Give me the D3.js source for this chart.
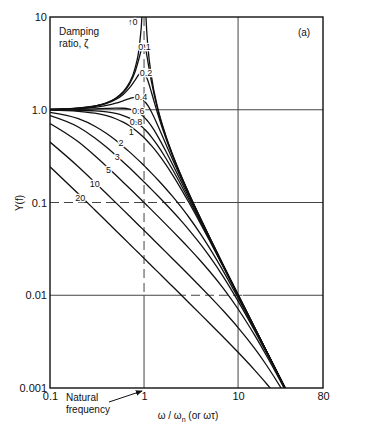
<!DOCTYPE html>
<html>
<head>
<meta charset="utf-8">
<script src="https://cdn.jsdelivr.net/npm/d3@7"></script>
<style>
  body { margin: 0; background: #fff; }
  svg { font-family: 'Liberation Sans', Arial, sans-serif; }
  .tick text { font-size: 11px; fill: #111; }
</style>
</head>
<body>
<div id="chart"></div>
<script>
// frequency ratio w/wn at which each curve was read
var freq = [0.1, 0.2, 0.3, 0.4, 0.5, 0.6, 0.7, 0.8, 0.9, 0.95, 0.98, 1.0, 1.02, 1.05, 1.1, 1.2, 1.4, 1.7, 2, 2.5, 3, 4, 5, 7, 10, 15, 20, 30, 40];

var z0 = [1.010, 1.042, 1.099, 1.190, 1.333, 1.563, 1.961, 2.778, 5.263, 10.26, 25.25, null, 24.75, 9.756, 4.762, 2.273, 1.042, 0.5291, 0.3333, 0.1905, 0.125, 0.0667, 0.04167, 0.02083, 0.0101, 0.004464, 0.002506, 0.001112, 0.000625];
var z01 = [1.010, 1.041, 1.097, 1.185, 1.322, 1.536, 1.891, 2.538, 3.821, 4.683, 5.001, 5.0, 4.809, 4.279, 3.288, 1.995, 1.0, 0.5207, 0.3304, 0.1896, 0.1247, 0.06657, 0.04163, 0.02083, 0.0101, 0.004464, 0.002506, 0.001112, 0.000625];
var z02 = [1.009, 1.038, 1.090, 1.170, 1.288, 1.463, 1.719, 2.076, 2.457, 2.549, 2.538, 2.5, 2.439, 2.313, 2.051, 1.536, 0.8998, 0.4979, 0.3221, 0.1871, 0.1236, 0.06629, 0.04152, 0.0208, 0.01009, 0.004463, 0.002506, 0.001112, 0.000625];
var z04 = [1.007, 1.028, 1.063, 1.113, 1.176, 1.25, 1.320, 1.362, 1.343, 1.305, 1.274, 1.25, 1.224, 1.182, 1.105, 0.9469, 0.6779, 0.4295, 0.2941, 0.178, 0.1197, 0.0652, 0.0411, 0.02069, 0.01007, 0.004458, 0.002504, 0.001112, 0.000625];
var z06 = [1.003, 1.011, 1.022, 1.034, 1.041, 1.038, 1.018, 0.9753, 0.9119, 0.874, 0.8499, 0.8333, 0.8165, 0.791, 0.7482, 0.6641, 0.5168, 0.3596, 0.2603, 0.1654, 0.114, 0.0635, 0.04042, 0.02052, 0.01003, 0.00445, 0.002502, 0.001111, 0.000625];
var z08 = [0.9972, 0.9882, 0.972, 0.9469, 0.9119, 0.8667, 0.8126, 0.7521, 0.6885, 0.6565, 0.6376, 0.625, 0.6126, 0.5941, 0.5642, 0.5077, 0.4103, 0.3019, 0.228, 0.1515, 0.1072, 0.06132, 0.03953, 0.02029, 0.009972, 0.004439, 0.002498, 0.001111, 0.000625];
var z1 = [0.9901, 0.9615, 0.9174, 0.8621, 0.8, 0.7353, 0.6711, 0.6098, 0.5525, 0.5256, 0.5101, 0.5, 0.4901, 0.4756, 0.4525, 0.4098, 0.3378, 0.2571, 0.2, 0.1379, 0.1, 0.05882, 0.03846, 0.02, 0.0099, 0.004425, 0.002494, 0.00111, 0.000625];
var z2 = [0.9365, 0.8002, 0.664, 0.5534, 0.4682, 0.4026, 0.3514, 0.3105, 0.2774, 0.2631, 0.2551, 0.25, 0.2451, 0.238, 0.227, 0.2075, 0.176, 0.1417, 0.117, 0.08854, 0.06934, 0.0456, 0.03201, 0.018, 0.009365, 0.004312, 0.002457, 0.001103, 0.000622];
var z3 = [0.8638, 0.6507, 0.4958, 0.3933, 0.3234, 0.2735, 0.2364, 0.2078, 0.1851, 0.1754, 0.1701, 0.1667, 0.1634, 0.1587, 0.1514, 0.1386, 0.1183, 0.0964, 0.08085, 0.06292, 0.05077, 0.03533, 0.02603, 0.01568, 0.008638, 0.004142, 0.0024, 0.001091, 0.000618];
var z5 = [0.7107, 0.4508, 0.319, 0.2447, 0.1978, 0.1657, 0.1425, 0.1249, 0.1111, 0.1053, 0.102, 0.1, 0.09804, 0.09523, 0.09089, 0.08328, 0.07126, 0.05846, 0.04945, 0.03915, 0.03221, 0.02341, 0.01803, 0.01178, 0.007107, 0.003709, 0.002241, 0.001055, 0.000607];
var z10 = [0.4481, 0.2431, 0.1648, 0.1243, 0.09972, 0.08322, 0.07138, 0.06248, 0.05555, 0.05263, 0.05102, 0.05, 0.04902, 0.04762, 0.04545, 0.04166, 0.03569, 0.02937, 0.02493, 0.01989, 0.01652, 0.01229, 0.009724, 0.006757, 0.004481, 0.002671, 0.00177, 0.000925, 0.000559];
var z20 = [0.2427, 0.1241, 0.0831, 0.06241, 0.04996, 0.04165, 0.03571, 0.03125, 0.02778, 0.02632, 0.02551, 0.025, 0.02451, 0.02381, 0.02273, 0.02083, 0.01785, 0.0147, 0.01249, 0.009986, 0.008315, 0.006223, 0.004964, 0.00352, 0.002427, 0.001561, 0.001119, 0.000667, 0.000442];

var curves = [z0, z01, z02, z04, z06, z08, z1, z2, z3, z5, z10, z20];

// curve labels (damping ratio) and where they sit
var labelText = ['\u21910', '0.1', '0.2', '0.4', '0.6', '0.8', '1', '2', '3', '5', '10', '20'];
var labelW = [0.76, 1.01, 1.05, 0.93, 0.87, 0.82, 0.73, 0.57, 0.52, 0.42, 0.30, 0.21];
var labelY = [8.9, 4.77, 2.5, 1.38, 0.97, 0.74, 0.575, 0.44, 0.31, 0.225, 0.16, 0.113];

var xTicks = [0.1, 1, 10, 80];
var xTickText = ['0.1', '1', '10', '80'];
var yTicks = [10, 1, 0.1, 0.01, 0.001];
var yTickText = ['10', '1.0', '0.1', '0.01', '0.001'];

var width = 377, height = 435;
var pLeft = 50, pRight = 323, pTop = 17, pBottom = 388;

var svg = d3.select('#chart').append('svg')
    .attr('width', width)
    .attr('height', height);

var x = d3.scaleLog().domain([0.1, 80]).range([pLeft, pRight]);
var y = d3.scaleLog().domain([0.001, 10]).range([pBottom, pTop]);

svg.append('clipPath').attr('id', 'plot')
    .append('rect').attr('x', pLeft).attr('y', pTop).attr('width', pRight - pLeft).attr('height', pBottom - pTop);

// grid lines, some parts dashed like the original
var grid = svg.append('g').attr('stroke', '#444').attr('stroke-width', 1).attr('fill', 'none');
function hseg(v, a, b, dash) {
    grid.append('line').attr('x1', x(a)).attr('x2', x(b)).attr('y1', y(v)).attr('y2', y(v))
        .attr('stroke-dasharray', dash ? '9,5' : null);
}
function vseg(v, a, b, dash) {
    grid.append('line').attr('x1', x(v)).attr('x2', x(v)).attr('y1', y(a)).attr('y2', y(b))
        .attr('stroke-dasharray', dash ? '9,5' : null);
}
hseg(1, 0.1, 80, false);
hseg(0.1, 0.1, 3.6, true);
hseg(0.1, 3.6, 80, false);
hseg(0.01, 0.1, 2.24, false);
hseg(0.01, 2.24, 11.2, true);
hseg(0.01, 11.2, 80, false);
vseg(1, 10, 0.01, true);
vseg(1, 0.01, 0.001, false);
vseg(10, 10, 0.001, false);

// curves
var line = d3.line()
    .defined(d => d[1] != null)
    .x(d => x(d[0]))
    .y(d => y(d[1]))
    .curve(d3.curveMonotoneX);

svg.append('g').attr('clip-path', 'url(#plot)')
    .selectAll('path').data(curves).enter().append('path')
    .attr('d', c => line(freq.map((f, i) => [f, c[i]])))
    .attr('fill', 'none')
    .attr('stroke', '#111')
    .attr('stroke-width', 1.3);

// frame
svg.append('rect').attr('x', pLeft).attr('y', pTop).attr('width', pRight - pLeft).attr('height', pBottom - pTop)
    .attr('fill', 'none').attr('stroke', '#111').attr('stroke-width', 1.4);

// curve labels with a white halo that breaks the line
svg.append('g').selectAll('text').data(labelText).enter().append('text')
    .attr('x', (d, i) => x(labelW[i]))
    .attr('y', (d, i) => y(labelY[i]))
    .attr('dy', '0.35em')
    .attr('text-anchor', 'middle')
    .attr('font-size', 9)
    .attr('fill', '#111')
    .attr('stroke', '#fff')
    .attr('stroke-width', 2.5)
    .attr('paint-order', 'stroke')
    .text(d => d);

// axes (labels only)
var xAxis = svg.append('g').attr('transform', `translate(0,${pBottom})`)
    .call(d3.axisBottom(x).tickValues(xTicks).tickFormat((d, i) => xTickText[i]).tickSize(0).tickPadding(4));
var yAxis = svg.append('g').attr('transform', `translate(${pLeft},0)`)
    .call(d3.axisLeft(y).tickValues(yTicks).tickFormat((d, i) => yTickText[i]).tickSize(0).tickPadding(3));
xAxis.select('.domain').remove();
yAxis.select('.domain').remove();

// annotations
svg.append('text').attr('x', 59).attr('y', 35).attr('font-size', 10).attr('fill', '#111').text('Damping');
svg.append('text').attr('x', 59).attr('y', 47).attr('font-size', 10).attr('fill', '#111').text('ratio, \u03b6');
svg.append('text').attr('x', 304).attr('y', 36).attr('font-size', 10).attr('text-anchor', 'middle').attr('fill', '#111').text('(a)');

svg.append('text').attr('x', 66).attr('y', 401).attr('font-size', 10).attr('fill', '#111').text('Natural');
svg.append('text').attr('x', 66).attr('y', 413).attr('font-size', 10).attr('fill', '#111').text('frequency');

svg.append('defs').append('marker').attr('id', 'arr')
    .attr('viewBox', '0 0 10 10').attr('refX', 9).attr('refY', 5)
    .attr('markerWidth', 7).attr('markerHeight', 7).attr('orient', 'auto')
    .append('path').attr('d', 'M0,1 L10,5 L0,9 Z').attr('fill', '#111');
svg.append('line').attr('x1', 109).attr('y1', 402).attr('x2', x(1) - 2).attr('y2', pBottom + 3)
    .attr('stroke', '#111').attr('stroke-width', 1).attr('marker-end', 'url(#arr)');

var xl = svg.append('text').attr('x', 188).attr('y', 419).attr('font-size', 10).attr('text-anchor', 'middle').attr('fill', '#111');
xl.append('tspan').text('\u03c9 / \u03c9');
xl.append('tspan').attr('font-size', 7).attr('dy', 3).text('n');
xl.append('tspan').attr('dy', -3).text(' (or \u03c9\u03c4)');

svg.append('text').attr('transform', 'translate(23,203) rotate(-90)')
    .attr('font-size', 10).attr('text-anchor', 'middle').attr('fill', '#111').text('Y(f)');
</script>
</body>
</html>
